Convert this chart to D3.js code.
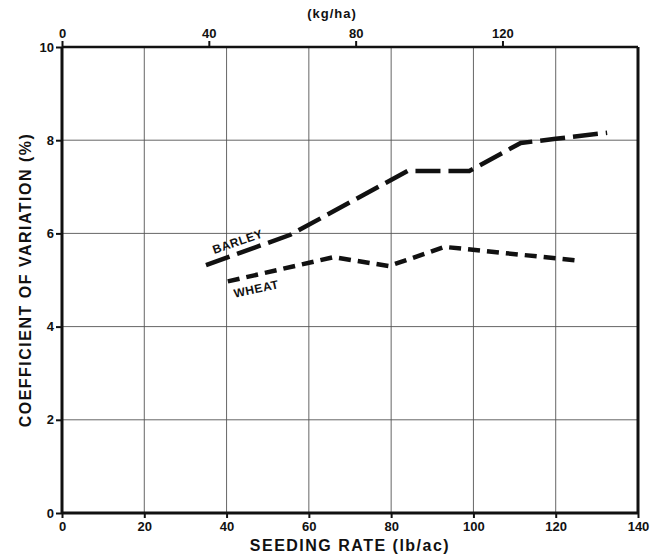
<!DOCTYPE html>
<html>
<head>
<meta charset="utf-8">
<script src="https://cdn.jsdelivr.net/npm/d3@7"></script>
<style>
  body { margin: 0; background: #fff; }
  text { font-family: "Liberation Sans", "DejaVu Sans", sans-serif; fill: #111; font-weight: bold; }
</style>
</head>
<body>
<div id="chart"></div>
<script>
'use strict';

// seeding rate (lb/ac) vs coefficient of variation (%)
let barleyRate = [35, 55.5, 84, 99, 111.5, 120, 132.5];
let barleyCv = [5.32, 5.97, 7.34, 7.34, 7.94, 8.03, 8.16];
let wheatRate = [40.3, 66, 79.5, 93, 126.2];
let wheatCv = [4.97, 5.49, 5.3, 5.71, 5.41];

let xTicks = [0, 20, 40, 60, 80, 100, 120, 140];
let yTicks = [0, 2, 4, 6, 8, 10];
let kgTicks = [0, 40, 80, 120];
let lbToKg = 1.1209;

let width = 660, height = 557,
    margin = {top: 47, right: 22, bottom: 44, left: 62};
let w = width - margin.left - margin.right,
    h = height - margin.top - margin.bottom;

let svg = d3.select('#chart').append('svg')
    .attr('width', width)
    .attr('height', height);

let g = svg.append('g')
    .attr('transform', 'translate(' + margin.left + ',' + margin.top + ')');

let x = d3.scaleLinear().domain([0, 140]).range([0, w]);
let xKg = d3.scaleLinear().domain([0, 140 * lbToKg]).range([0, w]);
let y = d3.scaleLinear().domain([0, 10]).range([h, 0]);

// grid
g.append('g').selectAll('line.vg')
    .data(xTicks.slice(1, -1))
    .enter().append('line')
    .attr('x1', d => x(d)).attr('x2', d => x(d))
    .attr('y1', 0).attr('y2', h)
    .style('stroke', '#555').style('stroke-width', 0.9);
g.append('g').selectAll('line.hg')
    .data(yTicks.slice(1, -1))
    .enter().append('line')
    .attr('x1', 0).attr('x2', w)
    .attr('y1', d => y(d)).attr('y2', d => y(d))
    .style('stroke', '#555').style('stroke-width', 0.9);

// axes
let xAxis = d3.axisBottom(x).tickValues(xTicks).tickSize(5).tickPadding(4);
let yAxis = d3.axisLeft(y).tickValues(yTicks).tickSize(6).tickPadding(2);
let topAxis = d3.axisTop(xKg).tickValues(kgTicks).tickSize(6).tickPadding(3);

function styleAxis(sel) {
    sel.select('.domain').remove();
    sel.selectAll('line').style('stroke', '#111').style('stroke-width', 2);
    sel.selectAll('text').style('font-size', '13px').style('fill', '#111')
        .style('font-family', '"Liberation Sans", sans-serif').style('font-weight', 'bold');
}

g.append('g').attr('transform', 'translate(0,' + h + ')').call(xAxis).call(styleAxis);
g.append('g').call(yAxis).call(styleAxis);
g.append('g').call(topAxis).call(styleAxis);

// frame
g.append('line').attr('x1', 0).attr('x2', w).attr('y1', 0).attr('y2', 0)
    .style('stroke', '#111').style('stroke-width', 2.5);
g.append('line').attr('x1', 0).attr('x2', w).attr('y1', h).attr('y2', h)
    .style('stroke', '#111').style('stroke-width', 3);
g.append('line').attr('x1', 0).attr('x2', 0).attr('y1', 0).attr('y2', h)
    .style('stroke', '#111').style('stroke-width', 3);
g.append('line').attr('x1', w).attr('x2', w).attr('y1', 0).attr('y2', h)
    .style('stroke', '#111').style('stroke-width', 3);

// lines
let line = d3.line()
    .x(d => x(d[0]))
    .y(d => y(d[1]));

let barley = barleyRate.map((r, i) => [r, barleyCv[i]]);
let wheat = wheatRate.map((r, i) => [r, wheatCv[i]]);

g.append('path').datum(barley)
    .attr('d', line)
    .style('fill', 'none').style('stroke', '#111')
    .style('stroke-width', 4.5)
    .style('stroke-dasharray', '25,8');

g.append('path').datum(wheat)
    .attr('d', line)
    .style('fill', 'none').style('stroke', '#111')
    .style('stroke-width', 4.5)
    .style('stroke-dasharray', '12,7');

// series labels
g.append('text')
    .attr('transform', 'translate(' + x(37) + ',' + (y(5.56)) + ') rotate(-19)')
    .style('font-size', '12px')
    .style('letter-spacing', '0.5px')
    .text('BARLEY');
g.append('text')
    .attr('transform', 'translate(' + x(42) + ',' + (y(4.62)) + ') rotate(-12)')
    .style('font-size', '12px')
    .style('letter-spacing', '0.5px')
    .text('WHEAT');

// axis titles
svg.append('text')
    .attr('x', margin.left + x(70)).attr('y', 551)
    .attr('text-anchor', 'middle')
    .style('font-size', '16px')
    .style('letter-spacing', '1.5px')
    .text('SEEDING RATE (lb/ac)');

svg.append('text')
    .attr('transform', 'translate(31,' + (margin.top + h / 2) + ') rotate(-90)')
    .attr('text-anchor', 'middle')
    .style('font-size', '16px')
    .style('letter-spacing', '1.5px')
    .text('COEFFICIENT OF VARIATION (%)');

svg.append('text')
    .attr('x', 332).attr('y', 18)
    .attr('text-anchor', 'middle')
    .style('font-size', '13px')
    .style('letter-spacing', '1px')
    .text('(kg/ha)');
</script>
</body>
</html>
